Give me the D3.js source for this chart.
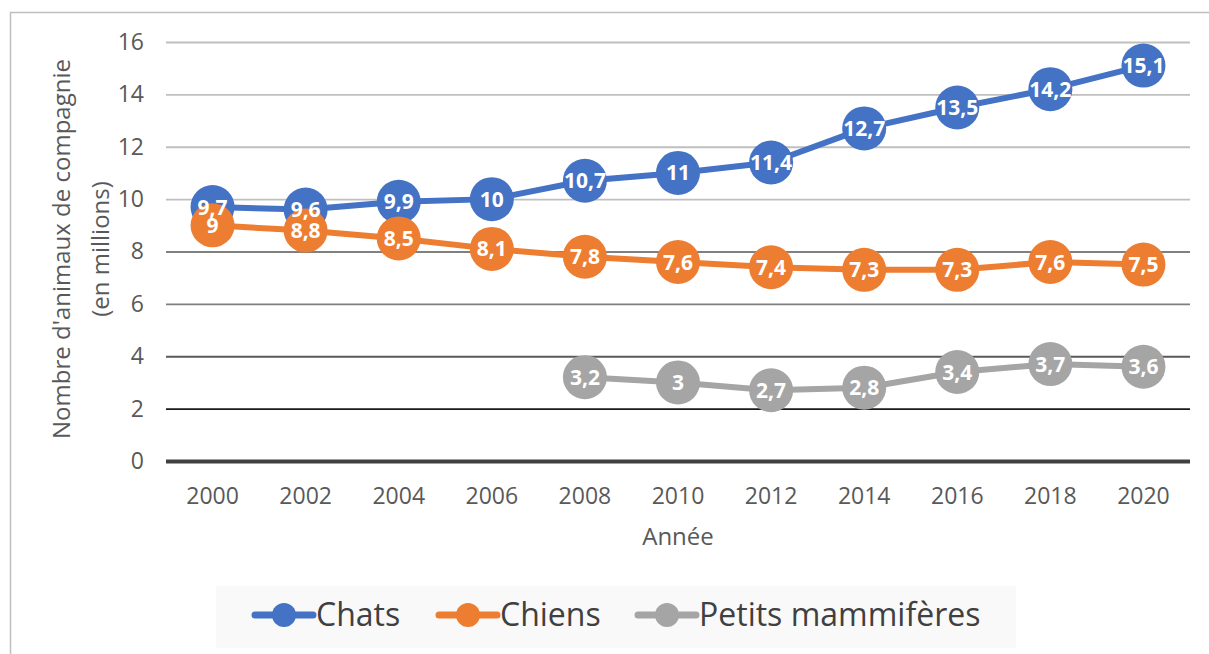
<!DOCTYPE html>
<html>
<head>
<meta charset="utf-8">
<script src="https://cdn.jsdelivr.net/npm/d3@7"></script>
<style>
  body { margin: 0; background: #fff; }
  svg { display: block; }
  svg text { font-family: "Open Sans", sans-serif; }
</style>
</head>
<body>
<div id="chart"></div>
<script>
// data
var years = ["2000", "2002", "2004", "2006", "2008", "2010", "2012", "2014", "2016", "2018", "2020"];
var chats = [9.7, 9.6, 9.9, 10, 10.7, 11, 11.4, 12.7, 13.5, 14.2, 15.1];
var chiens = [9, 8.8, 8.5, 8.1, 7.8, 7.6, 7.4, 7.3, 7.3, 7.6, 7.5];
var petits = [null, null, null, null, 3.2, 3, 2.7, 2.8, 3.4, 3.7, 3.6];
var seriesNames = ["Chats", "Chiens", "Petits mammifères"];
var yTicks = [0, 2, 4, 6, 8, 10, 12, 14, 16];

var colors = ["#4472C4", "#ED7D31", "#A5A5A5"];
var gridColor = {0: "#404040", 2: "#1a1a1a", 4: "#595959", 6: "#7f7f7f", 8: "#808080"};

var W = 1209, H = 654;
var margin = {top: 42, right: 19, bottom: 193, left: 166};
var width = W - margin.left - margin.right,
    height = H - margin.top - margin.bottom;

var svg = d3.select("#chart").append("svg")
    .attr("width", W)
    .attr("height", H);

// outer chart border
svg.append("rect")
    .attr("x", 10.5).attr("y", 12.5)
    .attr("width", W + 10).attr("height", H + 10)
    .attr("fill", "none")
    .attr("stroke", "#bfbfbf")
    .attr("stroke-width", 1.5);

var g = svg.append("g")
    .attr("transform", "translate(" + margin.left + "," + margin.top + ")");

var x = d3.scaleBand().domain(years).range([0, width]);
var y = d3.scaleLinear().domain([0, 16]).range([height, 0]);

// y axis + gridlines
var yg = g.append("g")
    .call(d3.axisLeft(y).tickValues(yTicks).tickSize(-width).tickPadding(22));
yg.select(".domain").remove();
yg.selectAll("line")
    .attr("stroke", function (d) { return gridColor[d] || "#bfbfbf"; })
    .attr("stroke-width", function (d) { return d === 0 ? 4 : 1.8; });
yg.selectAll("text")
    .attr("fill", "#595959")
    .style("font-size", "23px");

// x axis labels
var xg = g.append("g")
    .attr("transform", "translate(0," + height + ")")
    .call(d3.axisBottom(x).tickSize(0).tickPadding(22));
xg.select(".domain").remove();
xg.selectAll("text")
    .attr("fill", "#595959")
    .attr("dy", "0.32em")
    .attr("y", 36)
    .style("font-size", "23px");

// axis titles
g.append("text")
    .attr("x", width / 2)
    .attr("y", height + 84)
    .attr("text-anchor", "middle")
    .attr("fill", "#595959")
    .style("font-size", "24px")
    .text("Année");

var yt = svg.append("text")
    .attr("transform", "translate(62,249) rotate(-90)")
    .attr("text-anchor", "middle")
    .attr("fill", "#595959")
    .style("font-size", "24px");
yt.append("tspan").attr("x", 0).attr("dy", "0.35em").text("Nombre d'animaux de compagnie");
yt.append("tspan").attr("x", 0).attr("dy", "1.6em").text("(en millions)");

// series
var series = [chats, chiens, petits].map(function (vals, i) {
    return {
        name: seriesNames[i],
        color: colors[i],
        points: vals.map(function (v, j) { return {year: years[j], value: v}; })
                    .filter(function (p) { return p.value !== null; })
    };
});

var line = d3.line()
    .x(function (d) { return x(d.year) + x.bandwidth() / 2; })
    .y(function (d) { return y(d.value); });

series.forEach(function (s) {
    var sg = g.append("g");
    sg.append("path")
        .datum(s.points)
        .attr("d", line)
        .attr("fill", "none")
        .attr("stroke", s.color)
        .attr("stroke-width", 6)
        .attr("stroke-linejoin", "round");
    sg.selectAll("circle")
        .data(s.points)
        .enter().append("circle")
        .attr("cx", function (d) { return x(d.year) + x.bandwidth() / 2; })
        .attr("cy", function (d) { return y(d.value); })
        .attr("r", 22)
        .attr("fill", s.color);
});

// data labels on top of everything
series.forEach(function (s) {
    g.append("g").selectAll("text")
        .data(s.points)
        .enter().append("text")
        .attr("x", function (d) { return x(d.year) + x.bandwidth() / 2; })
        .attr("y", function (d) { return y(d.value); })
        .attr("dy", "0.36em")
        .attr("text-anchor", "middle")
        .attr("fill", "#fff")
        .attr("font-weight", "bold")
        .style("font-size", "21px")
        .text(function (d) { return String(d.value).replace(".", ","); });
});

// legend
var lg = svg.append("g");
lg.append("rect")
    .attr("x", 216).attr("y", 586)
    .attr("width", 800).attr("height", 62)
    .attr("fill", "#f9f9f9");

var legendX = [255, 439, 638];
series.forEach(function (s, i) {
    var it = lg.append("g").attr("transform", "translate(" + legendX[i] + ",615)");
    it.append("line")
        .attr("x1", 0).attr("x2", 58)
        .attr("stroke", s.color)
        .attr("stroke-width", 7)
        .attr("stroke-linecap", "round");
    it.append("circle")
        .attr("cx", 29).attr("r", 12)
        .attr("fill", s.color);
    it.append("text")
        .attr("x", 61)
        .attr("dy", "0.35em")
        .attr("fill", "#404040")
        .style("font-size", "32px")
        .text(s.name);
});
</script>
</body>
</html>
